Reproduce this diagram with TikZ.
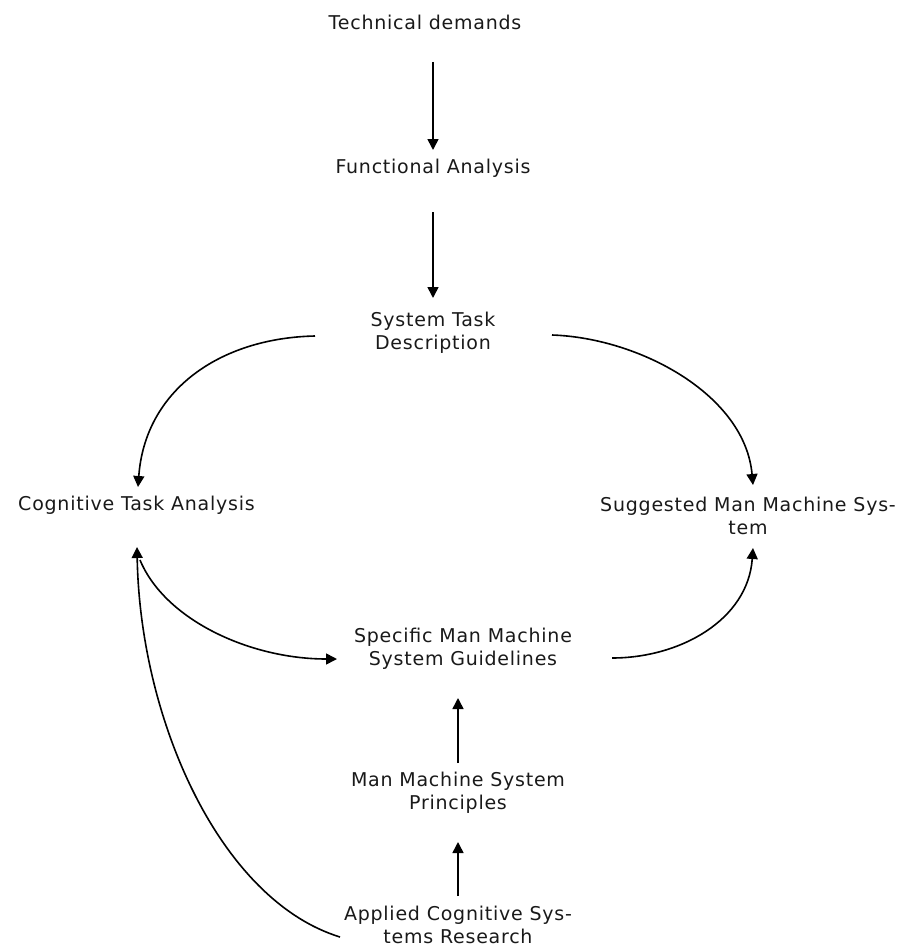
\documentclass[tikz,border=0pt]{standalone}
\usepackage{fontspec}
\setmainfont{DejaVu Sans}[LetterSpace=4.0]
\usetikzlibrary{arrows.meta,calc}
\begin{document}
\begin{tikzpicture}[x=1pt,y=-1pt,
  lbl/.style={inner sep=0pt,align=center,font=\fontsize{19}{23}\selectfont,text=black!90},
  arr/.style={line width=1.6pt,-{Triangle[length=11pt,width=11pt]}}]
\useasboundingbox (0,0) rectangle (912,947);

% labels
\node[lbl] (td)  at (425,22)   {Technical demands};
\node[lbl] (fa)  at (433,168)  {Functional Analysis};
\node[lbl] (st)  at (433,333)  {System Task\\Description};
\node[lbl] (cta) at (136.5,505) {Cognitive Task Analysis};
\node[lbl] (sms) at (748,516)  {Suggested Man Machine Sys-\\tem};
\node[lbl] (smg) at (463,649)  {Specific Man Machine\\System Guidelines};
\node[lbl] (mmp) at (458,793)  {Man Machine System\\Principles};
\node[lbl] (acr) at (458,925)  {Applied Cognitive Sys-\\tems Research};

% straight vertical links
\draw[arr,shorten <=40pt,shorten >=18pt] (td.center -| fa.center) -- (fa.center);
\draw[arr,shorten <=44pt,shorten >=35pt] (fa.center) -- (st.center);
\draw[arr,shorten <=30pt,shorten >=49pt] (mmp.center) -- (mmp.center |- smg.center);
\draw[arr,shorten <=29pt,shorten >=49pt] (acr.center) -- (mmp.center);

% curved links from the task description
\draw[arr] ($(st)+(-118,3)$) .. controls (220,338) and (145,390) .. ($(cta)+(1.5,-18)$);
\draw[arr] ($(st)+(119,2)$) .. controls (640,338) and (745,395) .. ($(sms)+(5,-31)$);

% analysis to guidelines, guidelines to suggested system
\draw[arr] ($(cta)+(3.5,55)$) .. controls (165,620) and (250,659) .. ($(smg)+(-126,10)$);
\draw[arr] ($(smg)+(149,9)$) .. controls (680,658) and (748,620) .. ($(sms)+(5,32)$);

% research feeding back to the analysis
\draw[arr] ($(acr)+(-118,12)$) .. controls (220,900) and (140,720) .. ($(cta)+(0.5,42)$);
\end{tikzpicture}
\end{document}
